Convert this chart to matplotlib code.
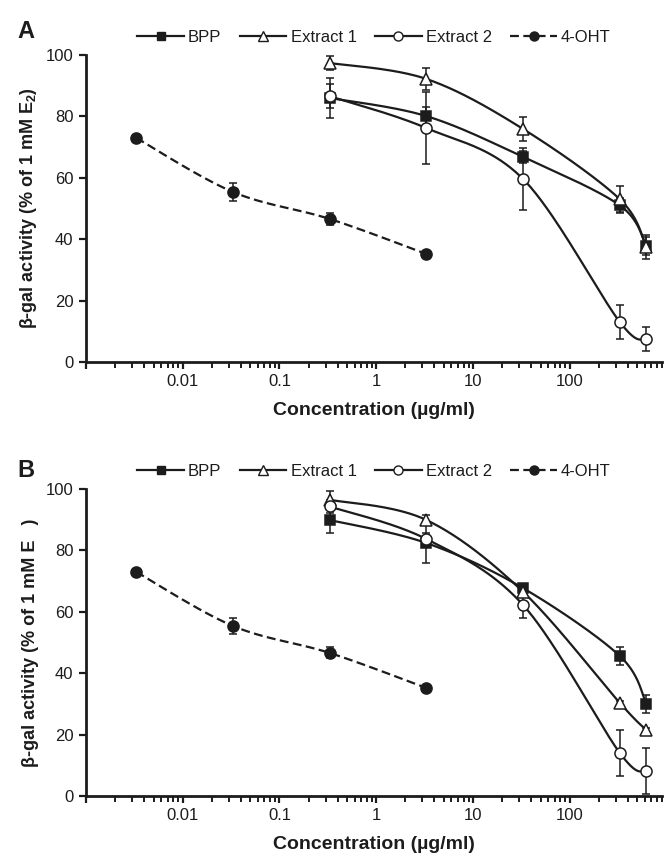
import matplotlib
matplotlib.use("Agg")
import matplotlib.pyplot as plt
import numpy as np
from matplotlib.lines import Line2D
from matplotlib.ticker import LogLocator, NullFormatter, FixedLocator, FixedFormatter

plt.rcParams['font.family'] = ['Liberation Sans', 'DejaVu Sans']
plt.rcParams['mathtext.fontset'] = 'custom'
plt.rcParams['mathtext.rm'] = 'Liberation Sans'
plt.rcParams['mathtext.bf'] = 'Liberation Sans:bold'

# ---- data ----
conc_ext = [0.33, 3.3, 33, 330, 620]
conc_oht = [0.0033, 0.033, 0.33, 3.3]

a_bpp = [86.0, 80.1, 66.8, 51.0, 37.8]
a_bpp_err = [6.5, 3.0, 2.0, 2.5, 3.0]
a_ext1 = [97.4, 92.2, 75.9, 53.0, 37.5]
a_ext1_err = [2.3, 3.7, 3.8, 4.3, 4.0]
a_ext2 = [86.6, 76.2, 59.6, 13.0, 7.5]
a_ext2_err = [4.0, 11.7, 10.0, 5.5, 4.0]
a_oht = [73.0, 55.4, 46.6, 35.2]
a_oht_err = [0.6, 2.8, 2.0, 0.6]

b_bpp = [89.9, 82.4, 67.7, 45.6, 30.0]
b_bpp_err = [4.2, 6.5, 1.5, 3.0, 3.0]
b_ext1 = [96.5, 89.9, 66.5, 30.3, 21.5]
b_ext1_err = [3.0, 1.6, 1.5, 0.6, 0.6]
b_ext2 = [94.3, 83.7, 62.2, 14.0, 8.1]
b_ext2_err = [2.0, 2.0, 4.2, 7.6, 7.5]
b_oht = [73.0, 55.4, 46.6, 35.2]
b_oht_err = [0.6, 2.5, 1.8, 0.6]

ink = '#1c1c1c'
PX_DEC = 96.75   # px per decade (for smoothing in screen-like space)
PX_Y = 3.07      # px per % unit


def smooth(xs, ys, n=40):
    # Excel-like smoothed line: cubic Bezier with Catmull-Rom tangents
    u = np.log10(np.asarray(xs, float)) * PX_DEC
    v = np.asarray(ys, float) * PX_Y
    P = np.c_[u, v]
    Pe = np.vstack([P[0], P, P[-1]])
    out = [P[0]]
    t = np.linspace(0, 1, n)[1:, None]
    for i in range(len(P) - 1):
        p0, p1 = Pe[i + 1], Pe[i + 2]
        c1 = p0 + (Pe[i + 2] - Pe[i]) / 6.0
        c2 = p1 - (Pe[i + 3] - Pe[i + 1]) / 6.0
        seg = (1 - t) ** 3 * p0 + 3 * (1 - t) ** 2 * t * c1 + 3 * (1 - t) * t ** 2 * c2 + t ** 3 * p1
        out.extend(seg)
    out = np.array(out)
    return 10 ** (out[:, 0] / PX_DEC), out[:, 1] / PX_Y


styles = {
    'BPP': dict(marker='s', mfc=ink, ms=7, ls='-'),
    'Extract 1': dict(marker='^', mfc='white', ms=8, ls='-'),
    'Extract 2': dict(marker='o', mfc='white', ms=8, ls='-'),
    '4-OHT': dict(marker='o', mfc=ink, ms=8, ls=(0, (4, 2))),
}


def panel(ax, series, ylab):
    for name, xs, ys, err in series:
        st = styles[name]
        ax.errorbar(xs, ys, yerr=err, fmt='none', ecolor=ink, elinewidth=1.1,
                    capsize=3, capthick=1.1, zorder=2)
        sx, sy = smooth(xs, ys)
        ax.plot(sx, sy, color=ink, lw=1.6, ls=st['ls'], zorder=3)
        ax.plot(xs, ys, ls='none', marker=st['marker'], ms=st['ms'],
                mfc=st['mfc'], mec=ink, mew=1.1, zorder=4)

    ax.set_xscale('log')
    ax.set_xlim(0.001, 900)
    ax.set_ylim(0, 100)
    for s in ['top', 'right']:
        ax.spines[s].set_visible(False)
    for s in ['left', 'bottom']:
        ax.spines[s].set_linewidth(2)
        ax.spines[s].set_color(ink)
    ax.set_yticks([0, 20, 40, 60, 80, 100])
    ax.xaxis.set_major_locator(FixedLocator([0.001, 0.01, 0.1, 1, 10, 100]))
    ax.xaxis.set_major_formatter(FixedFormatter(['', '0.01', '0.1', '1', '10', '100']))
    ax.xaxis.set_minor_locator(LogLocator(base=10, subs=np.arange(2, 10), numticks=20))
    ax.xaxis.set_minor_formatter(NullFormatter())
    ax.tick_params(which='major', direction='out', length=5, width=1.6,
                   color=ink, labelsize=12, labelcolor=ink, pad=4)
    ax.tick_params(which='minor', direction='out', length=4, width=1.4, color=ink)
    ax.set_xlabel('Concentration (µg/ml)', fontsize=14, fontweight='bold',
                  color=ink, labelpad=9)
    ax.set_ylabel(ylab, fontsize=13, fontweight='bold', color=ink, labelpad=5)

    handles = []
    for name in ['BPP', 'Extract 1', 'Extract 2', '4-OHT']:
        st = styles[name]
        handles.append(Line2D([], [], color=ink, lw=1.6, ls=st['ls'], marker=st['marker'],
                              ms=st['ms'] - 1.5, mfc=st['mfc'], mec=ink, mew=1.0, label=name))
    ax.legend(handles=handles, ncol=4, loc='lower center', bbox_to_anchor=(0.5, 1.0),
              frameon=False, fontsize=12, handlelength=2.8, handletextpad=0.25,
              columnspacing=1.1, borderaxespad=0.2, numpoints=1, labelcolor=ink)


fig = plt.figure(figsize=(6.64, 8.57), dpi=100)
axA = fig.add_axes([86 / 664, 1 - 362 / 857, 576 / 664, 307 / 857])
axB = fig.add_axes([86 / 664, 1 - 796 / 857, 576 / 664, 307 / 857])

panel(axA, [('BPP', conc_ext, a_bpp, a_bpp_err),
            ('Extract 1', conc_ext, a_ext1, a_ext1_err),
            ('Extract 2', conc_ext, a_ext2, a_ext2_err),
            ('4-OHT', conc_oht, a_oht, a_oht_err)],
      r'β-gal activity (% of 1 mM E$_\mathbf{2}$)')
panel(axB, [('BPP', conc_ext, b_bpp, b_bpp_err),
            ('Extract 1', conc_ext, b_ext1, b_ext1_err),
            ('Extract 2', conc_ext, b_ext2, b_ext2_err),
            ('4-OHT', conc_oht, b_oht, b_oht_err)],
      'β-gal activity (% of 1 mM E   )')

fig.text(26 / 664, 1 - 32 / 857, 'A', fontsize=17, fontweight='bold', color=ink,
         ha='center', va='center')
fig.text(26 / 664, 1 - 471 / 857, 'B', fontsize=17, fontweight='bold', color=ink,
         ha='center', va='center')

fig.savefig('out.png', dpi=100, facecolor='white')
